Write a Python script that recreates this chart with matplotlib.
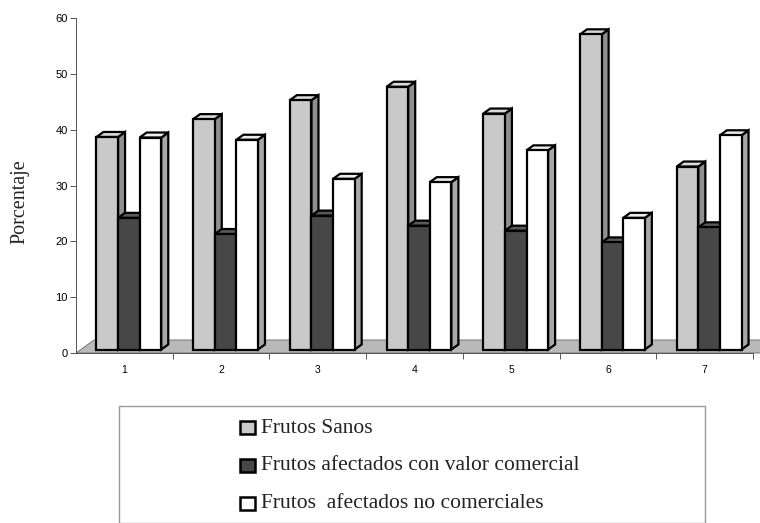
import matplotlib
matplotlib.use("Agg")
import matplotlib.pyplot as plt
from matplotlib.patches import Polygon, Rectangle
import numpy as np

# Data
categories = ["1", "2", "3", "4", "5", "6", "7"]
sanos = [38.1, 41.3, 44.7, 47.1, 42.3, 56.5, 32.8]
comercial = [23.6, 20.7, 24.0, 22.2, 21.3, 19.2, 21.9]
no_comercial = [38.0, 37.6, 30.6, 30.0, 35.7, 23.6, 38.4]
series_labels = ["Frutos Sanos",
                 "Frutos afectados con valor comercial",
                 "Frutos  afectados no comerciales"]
yticks = [0, 10, 20, 30, 40, 50, 60]

# Face colours per series: front, side, top
face_colors = [
    ("#c9c9c9", "#8f8f8f", "#dadada"),
    ("#474747", "#555555", "#5a5a5a"),
    ("#ffffff", "#a8a8a8", "#ededed"),
]

W, H, DPI = 760, 523, 100
fig = plt.figure(figsize=(W / DPI, H / DPI), dpi=DPI)
ax_l, ax_r, ax_b, ax_t = 76, 753, 353, 18.3
ax = fig.add_axes([ax_l / W, 1 - ax_b / H, (ax_r - ax_l) / W, (ax_b - ax_t) / H])

xmin, xmax, ymin, ymax = 0.5, 7.5, 0, 60
ax.set_xlim(xmin, xmax)
ax.set_ylim(ymin, ymax)

# pixel -> data conversions for the oblique depth
px_x = (xmax - xmin) / (ax_r - ax_l)
px_y = (ymax - ymin) / (ax_b - ax_t)

# floor
fdx, fdy = 18 * px_x, 13 * px_y
floor = Polygon([(xmin, 0), (xmax + 0.2, 0), (xmax + 0.2 + fdx, fdy), (xmin + fdx, fdy)],
                closed=True, facecolor="#b9b9b9", edgecolor="#666666", lw=0.6,
                clip_on=False, zorder=1)
ax.add_patch(floor)

# bars
bw = 21.6 * px_x
shift = 4.5 * px_x
base = 3.5 * px_y
dx, dy = 7 * px_x, 5 * px_y
lw = 1.6
series = [sanos, comercial, no_comercial]
x = np.arange(1, len(categories) + 1)
for i, xc in enumerate(x):
    for s, vals in enumerate(series):
        v = vals[i]
        x0 = xc - 1.5 * bw + shift + s * bw
        x1 = x0 + bw
        top = base + v
        front, side, topc = face_colors[s]
        ax.add_patch(Polygon([(x1, base), (x1, top), (x1 + dx, top + dy), (x1 + dx, base + dy)],
                             closed=True, facecolor=side, edgecolor="black", lw=lw,
                             joinstyle="miter", zorder=2))
        ax.add_patch(Polygon([(x0, top), (x1, top), (x1 + dx, top + dy), (x0 + dx, top + dy)],
                             closed=True, facecolor=topc, edgecolor="black", lw=lw,
                             joinstyle="miter", zorder=2))
        ax.add_patch(Rectangle((x0, base), bw, v, facecolor=front, edgecolor="black",
                               lw=lw, joinstyle="miter", zorder=2))

# axes styling
for sp in ["top", "right"]:
    ax.spines[sp].set_visible(False)
ax.spines["left"].set_color("#555555")
ax.spines["left"].set_linewidth(0.7)
ax.spines["bottom"].set_color("#555555")
ax.spines["bottom"].set_linewidth(0.7)
ax.spines["bottom"].set_zorder(3)

ax.set_yticks(yticks)
ax.set_yticklabels([str(t) for t in yticks], family="Liberation Sans", fontsize=8)
ax.tick_params(axis="y", direction="out", length=4, width=0.7, color="#555555", pad=2)

ax.set_xticks(x)
ax.set_xticklabels(categories, family="Liberation Sans", fontsize=7.5)
ax.set_xticks(np.arange(1.5, 8, 1), minor=True)
ax.tick_params(axis="x", which="major", length=0, pad=8.5)
ax.tick_params(axis="x", which="minor", direction="out", length=4, width=0.7, color="#555555")

fig.text(20 / W, 1 - 202 / H, "Porcentaje", rotation=90, ha="center", va="center",
         family="Liberation Serif", fontsize=14.5, color="#222222")

# legend box
fig.patches.append(Rectangle((119 / W, 0), (705 - 119) / W, 1 - 406 / H - 0,
                             transform=fig.transFigure, facecolor="white",
                             edgecolor="#9a9a9a", lw=1.0, zorder=0))
rows = [427.5, 465, 503]
for s, (lab, ry) in enumerate(zip(series_labels, rows)):
    front = face_colors[s][0]
    sqw, sqh = 15, 13
    fig.patches.append(Rectangle((239.5 / W, 1 - (ry + sqh / 2) / H), sqw / W, sqh / H,
                                 transform=fig.transFigure, facecolor=front,
                                 edgecolor="black", lw=1.8, zorder=2))
    fig.text(261 / W, 1 - (ry + 1) / H, lab, ha="left", va="center",
             family="Liberation Serif", fontsize=15.5, color="#222222")

fig.savefig("out.png", dpi=DPI)
